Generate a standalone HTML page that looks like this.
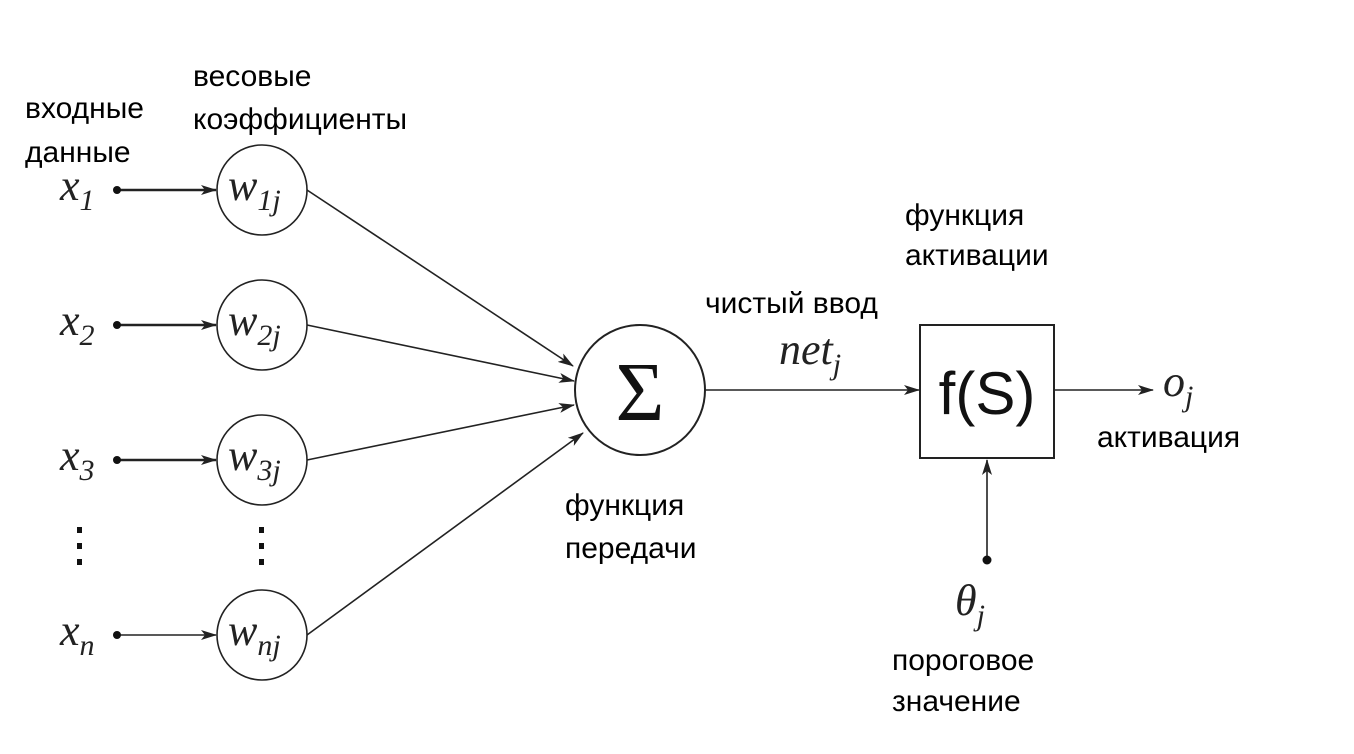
<!DOCTYPE html>
<html><head><meta charset="utf-8"><style>
body{margin:0;background:#fff;}
svg{display:block}
.t{font-family:"Liberation Sans",sans-serif;font-size:30px;fill:#000}
.m{font-family:"Liberation Serif",serif;font-style:italic;fill:#222}
</style></head><body>
<svg width="1354" height="754" viewBox="0 0 1354 754">
<defs><marker id="a" markerWidth="16" markerHeight="10" refX="15" refY="5" orient="auto" markerUnits="userSpaceOnUse"><path d="M0,0 L16,5 L0,10 L4,5 z" fill="#222"/></marker></defs>
<g stroke="#222" stroke-width="1.6" fill="none">
<circle cx="262" cy="190" r="45"/><circle cx="262" cy="325" r="45"/><circle cx="262" cy="460" r="45"/><circle cx="262" cy="635" r="45"/>
<circle cx="640" cy="390" r="65" stroke-width="2"/>
<rect x="920" y="325" width="134" height="133" stroke-width="2"/>
<line x1="117" y1="190" x2="216" y2="190" stroke-width="2.4" marker-end="url(#a)"/>
<line x1="117" y1="325" x2="216" y2="325" stroke-width="2.4" marker-end="url(#a)"/>
<line x1="117" y1="460" x2="216" y2="460" stroke-width="2.4" marker-end="url(#a)"/>
<line x1="117" y1="635" x2="216" y2="635" stroke-width="1.6" marker-end="url(#a)"/>
<line x1="307" y1="190" x2="573" y2="366" marker-end="url(#a)"/>
<line x1="307" y1="325" x2="574" y2="381" marker-end="url(#a)"/>
<line x1="307" y1="460" x2="574" y2="405" marker-end="url(#a)"/>
<line x1="307" y1="635" x2="583" y2="433" marker-end="url(#a)"/>
<line x1="705" y1="390" x2="919" y2="390" marker-end="url(#a)"/>
<line x1="1055" y1="390" x2="1153" y2="390" marker-end="url(#a)"/>
<line x1="987" y1="560" x2="987" y2="460" marker-end="url(#a)"/>
</g>
<g fill="#111"><circle cx="117" cy="190" r="4"/><circle cx="117" cy="325" r="4"/><circle cx="117" cy="460" r="4"/><circle cx="117" cy="635" r="4"/><circle cx="987" cy="560" r="4.5"/>
<rect x="77" y="527" width="5" height="6"/><rect x="77" y="543" width="5" height="6"/><rect x="77" y="559" width="5" height="6"/>
<rect x="259" y="527" width="5" height="6"/><rect x="259" y="543" width="5" height="6"/><rect x="259" y="559" width="5" height="6"/></g>
<g class="m" font-size="44">
<text x="60" y="200">x<tspan font-size="30" dy="10">1</tspan></text>
<text x="60" y="335">x<tspan font-size="30" dy="10">2</tspan></text>
<text x="60" y="470">x<tspan font-size="30" dy="10">3</tspan></text>
<text x="60" y="645">x<tspan font-size="30" dy="10">n</tspan></text>
<text x="228" y="200">w<tspan font-size="30" dy="10">1j</tspan></text>
<text x="228" y="335">w<tspan font-size="30" dy="10">2j</tspan></text>
<text x="228" y="470">w<tspan font-size="30" dy="10">3j</tspan></text>
<text x="228" y="645">w<tspan font-size="30" dy="10">nj</tspan></text>
<text x="779" y="364">net<tspan font-size="30" dy="10">j</tspan></text>
<text x="1163" y="396">o<tspan font-size="30" dy="10">j</tspan></text>
<text x="955" y="615">θ<tspan font-size="30" dy="10">j</tspan></text>
</g>
<text x="640" y="420" text-anchor="middle" font-family="Liberation Serif,serif" font-size="84" fill="#111">Σ</text>
<text x="987" y="414" text-anchor="middle" font-family="Liberation Sans,sans-serif" font-size="60" fill="#111">f(S)</text>
<g class="t">
<text x="25" y="118">входные</text><text x="25" y="162">данные</text>
<text x="193" y="86">весовые</text><text x="193" y="129">коэффициенты</text>
<text x="905" y="225">функция</text><text x="905" y="265">активации</text>
<text x="705" y="313">чистый ввод</text>
<text x="1097" y="447">активация</text>
<text x="565" y="515">функция</text><text x="565" y="558">передачи</text>
<text x="892" y="670">пороговое</text><text x="892" y="711">значение</text>
</g>
</svg>
</body></html>
